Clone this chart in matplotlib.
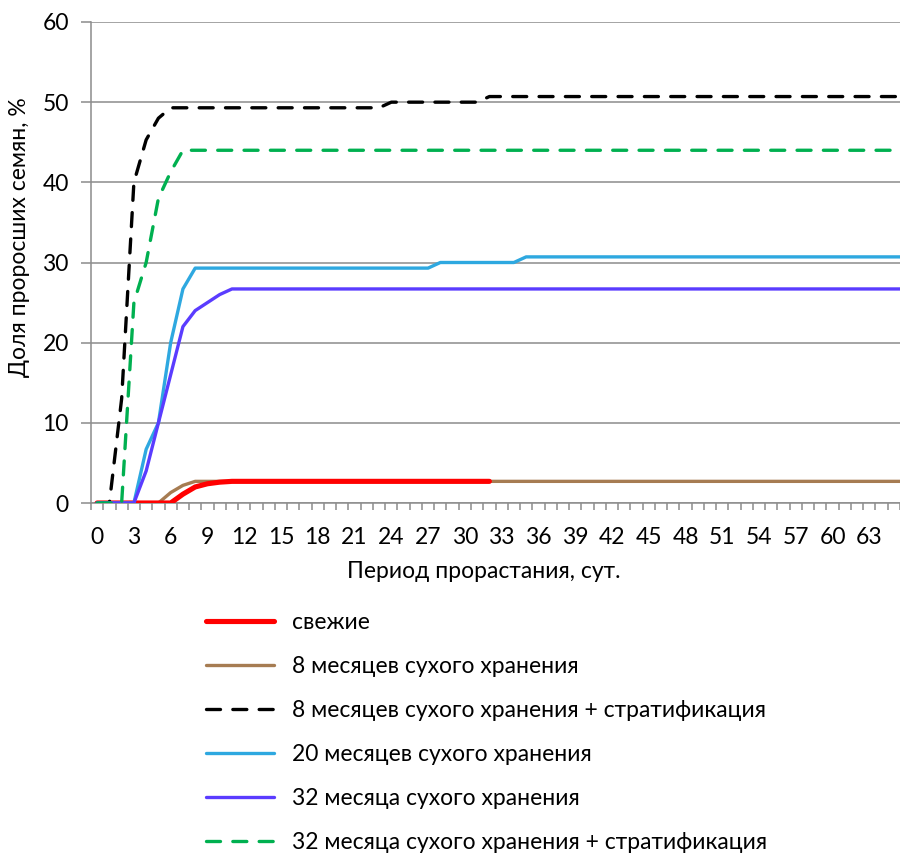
import numpy as np
import matplotlib
matplotlib.use('Agg')
import matplotlib.pyplot as plt

# данные: доля проросших семян (%) по суткам
days = list(range(0, 67))
fresh = [0, 0, 0, 0, 0, 0, 0, 1.1, 2.0, 2.4, 2.6] + [2.7] * 22          # сутки 0..32
dry8 = [0, 0, 0, 0, 0, 0, 1.3, 2.2] + [2.7] * 59
dry8_strat = [0, 0, 13, 40, 45.3, 48] + [49.3] * 18 + [50] * 8 + [50.7] * 35
dry20 = [0, 0, 0, 0, 6.7, 10, 20, 26.7] + [29.3] * 20 + [30] * 7 + [30.7] * 32
dry32 = [0, 0, 0, 0, 4, 10, 16, 22, 24, 25, 26] + [26.7] * 56
dry32_strat = [0, 0, 0, 25, 30, 38, 41.3] + [44] * 60

labels = ['свежие',
          '8 месяцев сухого хранения',
          '8 месяцев сухого хранения + стратификация',
          '20 месяцев сухого хранения',
          '32 месяца сухого хранения',
          '32 месяца сухого хранения + стратификация']
colors = ['#FF0000', '#A67C52', '#000000', '#2EA8E0', '#5A3CFF', '#00B050']
widths = [3.7, 2.4, 2.4, 2.4, 2.4, 2.4]
dashed = [False, False, True, False, False, True]
zorders = [4, 3, 5, 6, 7, 8]
series = [fresh, dry8, dry8_strat, dry20, dry32, dry32_strat]

plt.rcParams['font.family'] = ['Lato', 'DejaVu Sans']
plt.rcParams['font.size'] = 16.5

fig = plt.figure(figsize=(9, 8.56), dpi=100)
ax = fig.add_axes([91 / 900, 1 - 503 / 856, 809 / 900, 481 / 856])

for vals, lab, col, lw, dsh, zo in zip(series, labels, colors, widths, dashed, zorders):
    x = days[:len(vals)]
    ls = (0, (4.2, 3.7)) if dsh else '-'
    ax.plot(x, vals, color=col, lw=lw, linestyle=ls, label=lab, zorder=zo,
            solid_capstyle='round', dash_capstyle='round',
            solid_joinstyle='round', dash_joinstyle='round')

ax.set_xlim(-0.5, 65.25)
ax.set_ylim(0, 60)
ax.set_yticks(range(0, 61, 10))
ax.yaxis.grid(True, color='#8C8C8C', lw=1.1)
ax.set_axisbelow(True)

ax.set_xticks(np.arange(-0.5, 66, 1))
ax.set_xticklabels([])
ax.set_xticks(range(0, 66, 3), minor=True)
ax.set_xticklabels([str(d) for d in range(0, 66, 3)], minor=True)
ax.tick_params(axis='x', which='major', length=5, width=1.1, color='#8C8C8C')
ax.tick_params(axis='x', which='minor', length=0, pad=17)
ax.tick_params(axis='y', length=7, width=1.1, color='#8C8C8C', pad=9)

for s in ['top', 'right']:
    ax.spines[s].set_visible(False)
for s in ['left', 'bottom']:
    ax.spines[s].set_color('#8C8C8C')
    ax.spines[s].set_linewidth(1.1)

ax.set_xlabel('Период прорастания, сут.')
ax.xaxis.set_label_coords(0.486, -0.121)
ax.set_ylabel('Доля проросших семян, %')
ax.yaxis.set_label_coords(-0.076, 0.553)

fig.legend(loc='upper left', bbox_to_anchor=(206 / 900, 1 - 612 / 856),
           frameon=False, handlelength=2.97, handletextpad=0.79, labelspacing=1.0,
           borderaxespad=0, borderpad=0)

fig.savefig('out.png', dpi=100)
